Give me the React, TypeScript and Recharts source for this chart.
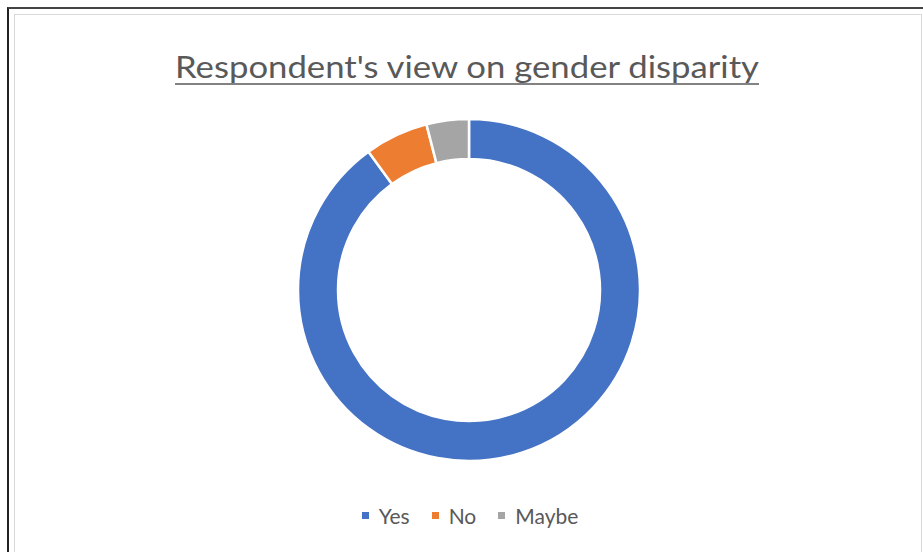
import { Pie, PieChart, Cell } from "recharts";

const categories = ["Yes", "No", "Maybe"];
const values = [90, 6, 4];
const colors = ["#4472C4", "#ED7D31", "#A5A5A5"];

const data = categories.map((name, i) => ({ name, value: values[i] }));

function DonutLegend() {
  return (
    <div
      style={{
        position: "absolute",
        left: 0,
        top: 503,
        width: 940,
        display: "flex",
        justifyContent: "center",
        gap: 22,
        fontFamily: "Lato, 'Open Sans', sans-serif",
        fontSize: 21,
        color: "#595959",
      }}
    >
      {data.map((d, i) => (
        <div key={d.name} style={{ display: "flex", alignItems: "center" }}>
          <span
            style={{
              display: "inline-block",
              width: 7,
              height: 7,
              background: colors[i],
              marginRight: 10,
            }}
          />
          <span>{d.name}</span>
        </div>
      ))}
    </div>
  );
}

export default function App() {
  return (
    <div style={{ position: "absolute", left: 0, top: 0, width: 923, height: 552, background: "#fff", overflow: "hidden" }}>
      <div style={{ position: "absolute", left: 7, top: 7, width: 940, height: 560, borderLeft: "2px solid #222", borderTop: "2px solid #444" }} />
      <div style={{ position: "absolute", left: 14, top: 14, width: 906, height: 560, border: "1px solid #d9d9d9" }} />
      <svg style={{ position: "absolute", left: 0, top: 0 }} width={923} height={100}>
        <text
          x={175}
          y={78}
          textLength={584}
          lengthAdjust="spacingAndGlyphs"
          fontFamily="Lato, 'Open Sans', sans-serif"
          fontSize={30}
          fill="#595959"
        >
          Respondent's view on gender disparity
        </text>
        <line x1={175} x2={759} y1={84} y2={84} stroke="#595959" strokeWidth={1.5} />
      </svg>
      <div style={{ position: "absolute", left: 0, top: 0 }}>
        <PieChart width={923} height={552} margin={{ top: 0, right: 0, bottom: 0, left: 0 }}>
          <Pie
            data={data}
            dataKey="value"
            nameKey="name"
            cx={469}
            cy={290}
            innerRadius={131}
            outerRadius={171}
            startAngle={90}
            endAngle={-270}
            stroke="#ffffff"
            strokeWidth={2.5}
            isAnimationActive={false}
          >
            {data.map((d, i) => (
              <Cell key={d.name} fill={colors[i]} />
            ))}
          </Pie>
        </PieChart>
      </div>
      <DonutLegend />
    </div>
  );
}
